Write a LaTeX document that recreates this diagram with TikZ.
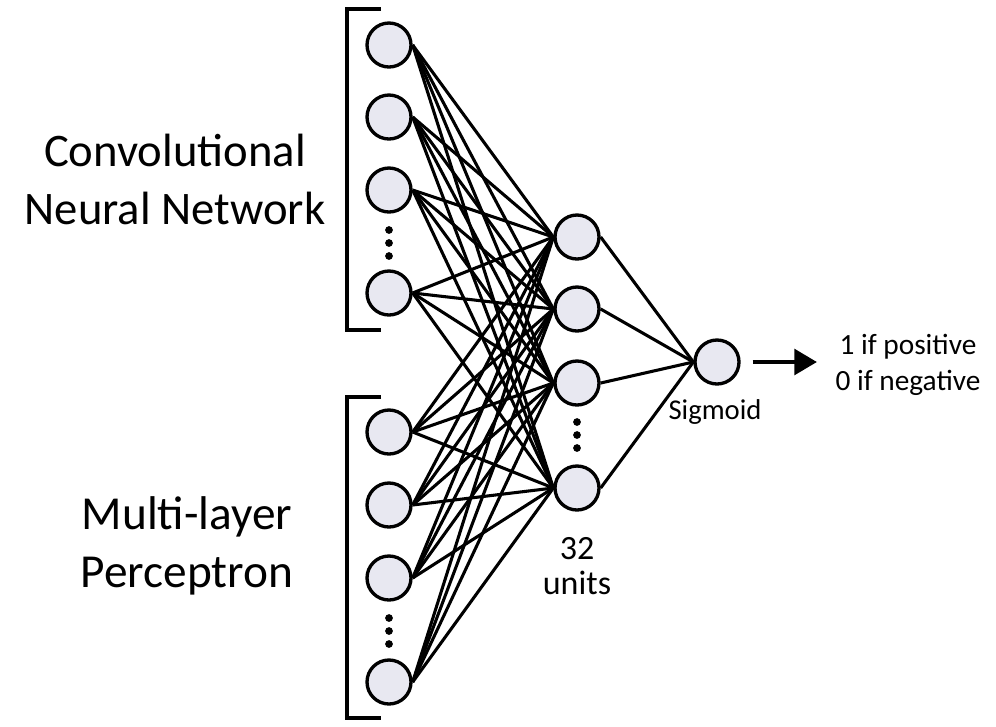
\documentclass[tikz,border=0pt]{standalone}
\usepackage{fontspec}
\setmainfont{Carlito}
\usepackage{tikz}
\usetikzlibrary{arrows.meta}
\definecolor{unitfill}{RGB}{232,232,241}
\tikzset{
    neuron/.style={circle,draw=black,line width=2.5pt,fill=unitfill,minimum size=33pt,inner sep=0pt},
    wire/.style={line width=2.3pt},
    brace/.style={line width=3pt},
    vdot/.style={fill=black},
}

\begin{document}
\begin{tikzpicture}[x=0.75pt,y=-0.75pt]
            \useasboundingbox (0,0) rectangle (996,726);

            % input units
            \node[neuron] (cnn1) at (389,45) {};
            \node[neuron] (cnn2) at (389,117) {};
            \node[neuron] (cnn3) at (389,190) {};
            \node[neuron] (cnn4) at (389,293) {};
            \node[neuron] (mlp1) at (389,432) {};
            \node[neuron] (mlp2) at (389,505) {};
            \node[neuron] (mlp3) at (389,578) {};
            \node[neuron] (mlp4) at (389,682) {};

            % hidden units and output
            \node[neuron] (hid1) at (577,237) {};
            \node[neuron] (hid2) at (577,309) {};
            \node[neuron] (hid3) at (577,383) {};
            \node[neuron] (hid4) at (577,488) {};
            \node[neuron] (out) at (717,362) {};

            \foreach \a in {cnn1,cnn2,cnn3,cnn4,mlp1,mlp2,mlp3,mlp4}
                \foreach \b in {hid1,hid2,hid3,hid4}
                    \draw[wire] (\a.east)--(\b.west);
            \foreach \b in {hid1,hid2,hid3,hid4}
                \draw[wire] (\b.east)--(out.west);

            % vertical dots
            \foreach \x/\y in {389/230,389/618,577/422}{
                \fill[vdot] (\x,\y) circle (2.9pt);
                \fill[vdot] (\x,\y+13) circle (2.9pt);
                \fill[vdot] (\x,\y+26) circle (2.9pt);
            }

            % brackets
            \draw[brace] (381,9)--(347,9)--(347,330)--(381,330);
            \draw[brace] (381,397)--(347,397)--(347,718)--(381,718);

            \node[align=center,font=\fontsize{35}{43.5}\selectfont] (cnnlab) at (175,179) {Convolutional\\Neural Network};
            \node[align=center,font=\fontsize{35.5}{43}\selectfont] (mlplab) at (187,546) {Multi-layer\\Perceptron};
            \node[align=center,font=\fontsize{25.5}{26}\selectfont] (units) at (577,566) {32\\units};
            \node[font=\fontsize{21.5}{24}\selectfont] (sig) at (715,412) {Sigmoid};

            \coordinate (res) at (817,362);
            \draw[line width=3.6pt,-{Triangle[length=17pt,width=19pt]},shorten <=9pt] (out)--(res);
            \node[align=center,font=\fontsize{22}{27}\selectfont] (result) at (908,365) {1 if positive\\0 if negative};
        \end{tikzpicture}
\end{document}
